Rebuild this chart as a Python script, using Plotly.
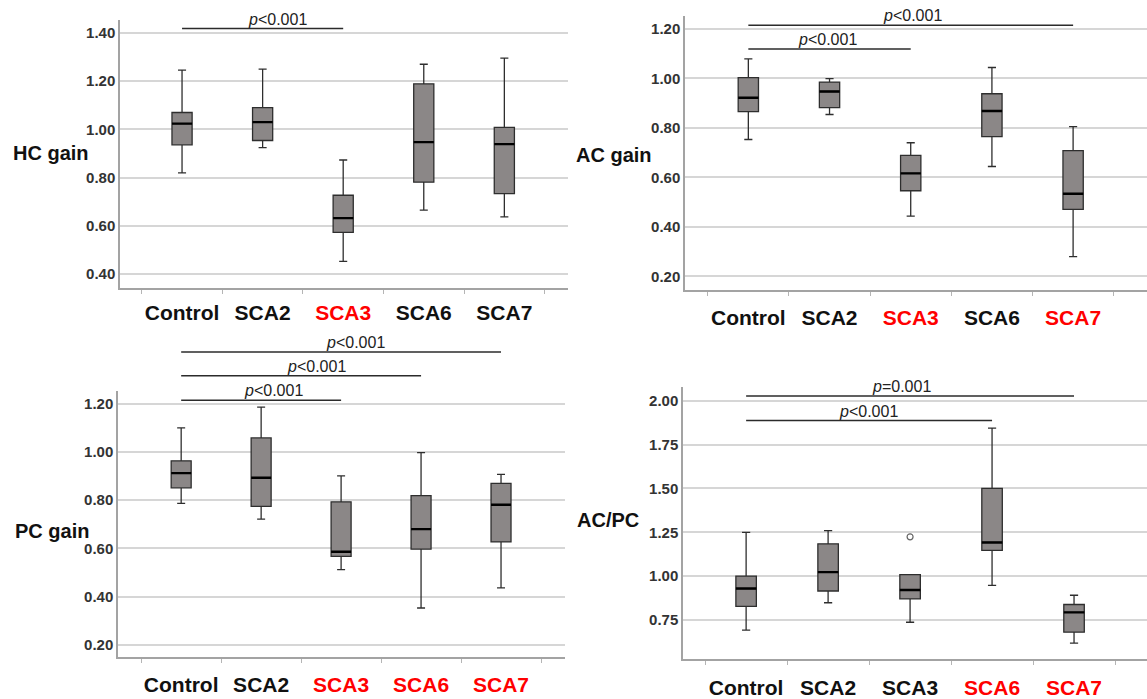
import plotly.graph_objects as go

# ---------------- data ----------------
categories = ["Control", "SCA2", "SCA3", "SCA6", "SCA7"]

hc_lower = [0.820, 0.924, 0.453, 0.665, 0.637]
hc_q1 = [0.936, 0.954, 0.573, 0.781, 0.734]
hc_median = [1.024, 1.030, 0.632, 0.947, 0.939]
hc_q3 = [1.070, 1.090, 0.727, 1.189, 1.008]
hc_upper = [1.246, 1.250, 0.873, 1.270, 1.295]

ac_lower = [0.753, 0.854, 0.443, 0.644, 0.280]
ac_q1 = [0.866, 0.882, 0.546, 0.765, 0.471]
ac_median = [0.922, 0.947, 0.616, 0.868, 0.534]
ac_q3 = [1.003, 0.985, 0.689, 0.938, 0.708]
ac_upper = [1.079, 0.999, 0.740, 1.044, 0.805]

pc_lower = [0.787, 0.721, 0.512, 0.353, 0.436]
pc_q1 = [0.851, 0.774, 0.567, 0.597, 0.627]
pc_median = [0.912, 0.893, 0.586, 0.680, 0.781]
pc_q3 = [0.963, 1.058, 0.793, 0.819, 0.870]
pc_upper = [1.100, 1.186, 0.901, 0.997, 0.907]

acpc_lower = [0.692, 0.848, 0.737, 0.947, 0.618]
acpc_q1 = [0.827, 0.915, 0.870, 1.147, 0.680]
acpc_median = [0.929, 1.023, 0.921, 1.192, 0.793]
acpc_q3 = [1.000, 1.184, 1.009, 1.500, 0.838]
acpc_upper = [1.250, 1.259, 1.009, 1.844, 0.891]
acpc_outlier_cat = ["SCA3"]
acpc_outlier_val = [1.224]

hc_ticks = [0.40, 0.60, 0.80, 1.00, 1.20, 1.40]
ac_ticks = [0.20, 0.40, 0.60, 0.80, 1.00, 1.20]
pc_ticks = [0.20, 0.40, 0.60, 0.80, 1.00, 1.20]
acpc_ticks = [0.75, 1.00, 1.25, 1.50, 1.75, 2.00]

hc_red = ["SCA3"]
ac_red = ["SCA3", "SCA7"]
pc_red = ["SCA3", "SCA6", "SCA7"]
acpc_red = ["SCA6", "SCA7"]

P_LT = "<i>p</i>&lt;0.001"
P_EQ = "<i>p</i>=0.001"
# significance bars: (from group, to group, level, label)
hc_sig = [("Control", "SCA3", 1.418, P_LT)]
ac_sig = [("Control", "SCA7", 1.215, P_LT), ("Control", "SCA3", 1.119, P_LT)]
pc_sig = [("Control", "SCA7", 1.414, P_LT), ("Control", "SCA6", 1.316, P_LT),
          ("Control", "SCA3", 1.214, P_LT)]
acpc_sig = [("Control", "SCA7", 2.028, P_EQ), ("Control", "SCA6", 1.887, P_LT)]

# ---------------- layout / style ----------------
W, H = 1147, 699
FONT = "Liberation Sans, Arial, sans-serif"
BOX_FILL = "#8b8787"
BOX_LINE = "#2e2e2e"
GRID = "#d6d6d6"
AXLINE = "#a3a3a3"

panels = [
    dict(title="HC gain", lo=hc_lower, q1=hc_q1, med=hc_median, q3=hc_q3, hi=hc_upper,
         ticks=hc_ticks, red=hc_red, sig=hc_sig, text_dx=[0.18], standoff=5,
         px=(120, 20, 568, 292), yr=(0.3415, 1.4545), xr=(-0.77, 4.79), tpx=(11, 155)),
    dict(title="AC gain", lo=ac_lower, q1=ac_q1, med=ac_median, q3=ac_q3, hi=ac_upper,
         ticks=ac_ticks, red=ac_red, sig=ac_sig, text_dx=[0.02, -0.02], standoff=8,
         px=(685, 16, 1147, 294), yr=(0.144, 1.253), xr=(-0.78, 4.91), tpx=(574, 157)),
    dict(title="PC gain", lo=pc_lower, q1=pc_q1, med=pc_median, q3=pc_q3, hi=pc_upper,
         ticks=pc_ticks, red=pc_red, sig=pc_sig, text_dx=[0.18, 0.19, 0.15], standoff=8,
         px=(118, 396, 565, 666), yr=(0.148, 1.253), xr=(-0.79, 4.80), tpx=(13, 538)),
    dict(title="AC/PC", lo=acpc_lower, q1=acpc_q1, med=acpc_median, q3=acpc_q3, hi=acpc_upper,
         ticks=acpc_ticks, red=acpc_red, sig=acpc_sig, text_dx=[-0.11, -0.01], standoff=9,
         px=(683, 392, 1147, 668), yr=(0.525, 2.079), xr=(-0.77, 4.89), tpx=(575, 527)),
]


def xpaper(p, idx):
    x0, x1 = p["px"][0] / W, p["px"][2] / W
    r0, r1 = p["xr"]
    return x0 + (idx - r0) / (r1 - r0) * (x1 - x0)


def ypaper(p, v):
    yb, yt = 1 - p["px"][3] / H, 1 - p["px"][1] / H
    r0, r1 = p["yr"]
    return yb + (v - r0) / (r1 - r0) * (yt - yb)


fig = go.Figure()
shapes = []
annotations = []
layout = {}

for i, p in enumerate(panels):
    n = "" if i == 0 else str(i + 1)
    xa, ya = "x" + n, "y" + n
    fig.add_trace(go.Box(
        x=categories, q1=p["q1"], median=p["med"], q3=p["q3"],
        lowerfence=p["lo"], upperfence=p["hi"],
        xaxis=xa, yaxis=ya, width=0.25, whiskerwidth=0.4,
        fillcolor=BOX_FILL, line=dict(color=BOX_LINE, width=1.3),
        boxpoints=False, showlegend=False, hoverinfo="skip"))
    # thicker median bars
    for j, m in enumerate(p["med"]):
        shapes.append(dict(type="line", xref=xa, yref=ya, x0=j - 0.125, x1=j + 0.125,
                           y0=m, y1=m, line=dict(color="#000000", width=2.4)))
    ticktext = [f"<span style='color:#ff0000'>{c}</span>" if c in p["red"] else c
                for c in categories]
    layout["xaxis" + n] = dict(
        domain=[p["px"][0] / W, p["px"][2] / W], anchor=ya, type="category",
        range=list(p["xr"]), tickmode="array", tickvals=categories, ticktext=ticktext,
        tickson="boundaries", ticks="outside", ticklen=4, tickcolor="#b5b5b5", tickwidth=1,
        showline=True, linecolor=AXLINE, linewidth=1.5, showgrid=False, zeroline=False,
        tickangle=0,
        tickfont=dict(family=FONT, size=21, color="#111111", weight="bold"),
        ticklabelstandoff=p["standoff"], fixedrange=True)
    layout["yaxis" + n] = dict(
        domain=[1 - p["px"][3] / H, 1 - p["px"][1] / H], anchor=xa,
        range=list(p["yr"]), tickmode="array", tickvals=p["ticks"], tickformat=".2f",
        showgrid=True, gridcolor=GRID, gridwidth=1.5, showline=True, linecolor=AXLINE,
        linewidth=1.5, ticks="", zeroline=False,
        tickfont=dict(family=FONT, size=15, color="#333333", weight="bold"), fixedrange=True)
    annotations.append(dict(text=p["title"], xref="paper", yref="paper",
                            x=p["tpx"][0] / W, y=1 - p["tpx"][1] / H, xanchor="left",
                            yanchor="middle", showarrow=False,
                            font=dict(family=FONT, size=20, color="#111111", weight="bold")))
    for (a, b, lvl, lab), dx in zip(p["sig"], p["text_dx"]):
        ia, ib = categories.index(a), categories.index(b)
        yy = ypaper(p, lvl)
        shapes.append(dict(type="line", xref="paper", yref="paper",
                           x0=xpaper(p, ia), x1=xpaper(p, ib), y0=yy, y1=yy,
                           line=dict(color="#2b2b2b", width=1.5)))
        annotations.append(dict(text=lab, xref="paper", yref="paper",
                                x=xpaper(p, (ia + ib) / 2 + dx), y=yy, xanchor="center",
                                yanchor="bottom", yshift=-1, showarrow=False,
                                font=dict(family=FONT, size=16, color="#222222")))

fig.add_trace(go.Scatter(x=acpc_outlier_cat, y=acpc_outlier_val, xaxis="x4", yaxis="y4",
                         mode="markers", showlegend=False, hoverinfo="skip",
                         marker=dict(symbol="circle-open", size=6, color="#666666",
                                     line=dict(width=1.2))))

fig.update_layout(width=W, height=H, margin=dict(l=0, r=0, t=0, b=0),
                  paper_bgcolor="white", plot_bgcolor="white", showlegend=False,
                  shapes=shapes, annotations=annotations, **layout)
fig.write_html("out.html", config={"responsive": False, "displayModeBar": False},
               post_script="document.body.style.margin='0';"
                           "document.body.style.overflow='hidden';")
